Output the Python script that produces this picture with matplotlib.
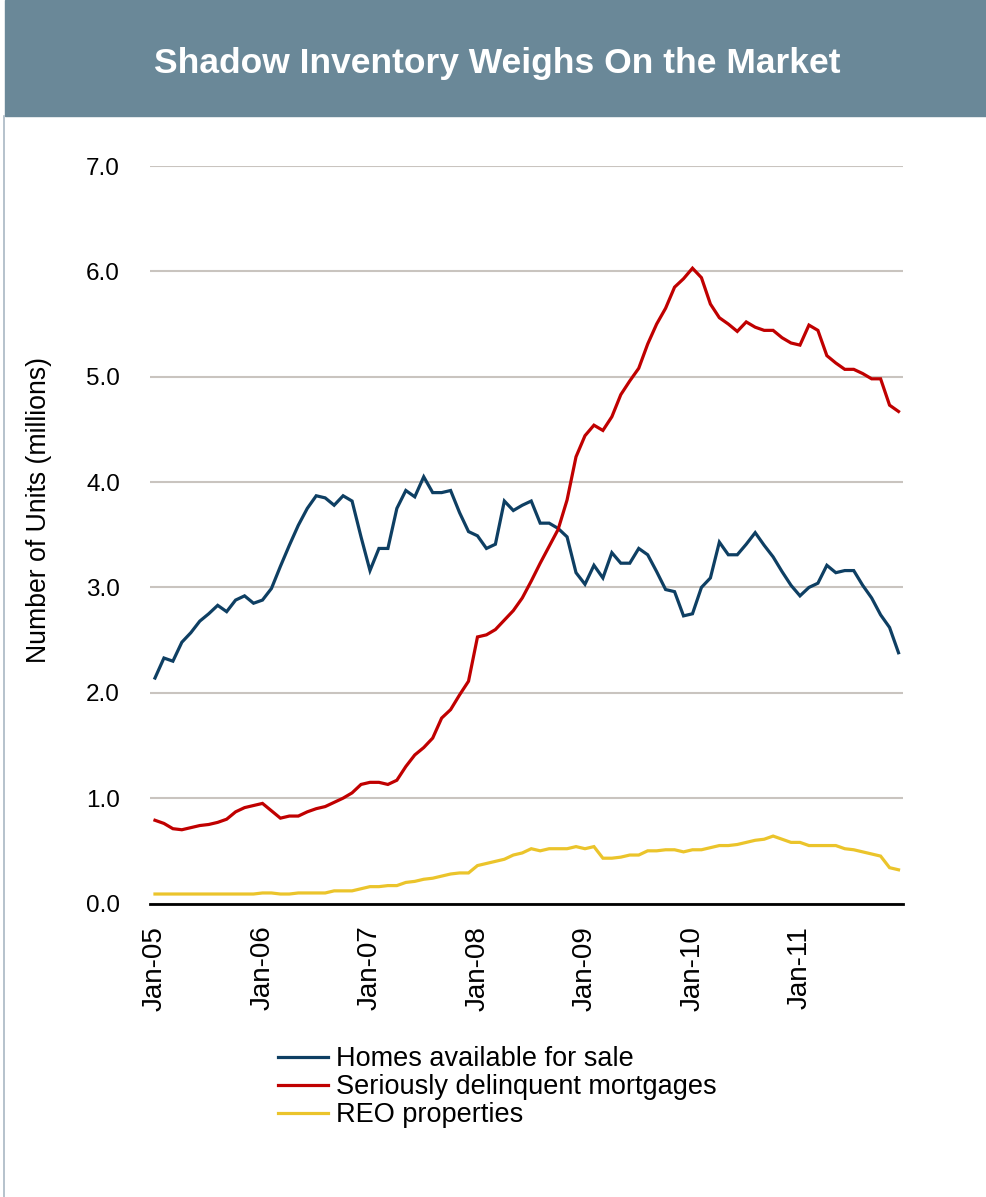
import matplotlib
matplotlib.use("Agg")
import matplotlib.pyplot as plt
from matplotlib.patches import Rectangle
from matplotlib.lines import Line2D
import numpy as np
import pandas as pd

plt.rcParams['font.family'] = ['Liberation Sans', 'DejaVu Sans']

# Data (millions of units, monthly Jan-05 .. Dec-11)
months = pd.date_range('2005-01-01', periods=84, freq='MS')

homes_for_sale = [
    2.14, 2.33, 2.30, 2.48, 2.57, 2.68, 2.75, 2.83, 2.77, 2.88, 2.92, 2.85,
    2.88, 2.99, 3.20, 3.40, 3.59, 3.75, 3.87, 3.85, 3.78, 3.87, 3.82, 3.48,
    3.16, 3.37, 3.37, 3.75, 3.92, 3.86, 4.05, 3.90, 3.90, 3.92, 3.71, 3.53,
    3.49, 3.37, 3.41, 3.82, 3.73, 3.78, 3.82, 3.61, 3.61, 3.56, 3.48, 3.14,
    3.03, 3.21, 3.09, 3.33, 3.23, 3.23, 3.37, 3.31, 3.15, 2.98, 2.96, 2.73,
    2.75, 3.00, 3.09, 3.43, 3.31, 3.31, 3.41, 3.52, 3.40, 3.29, 3.15, 3.02,
    2.92, 3.00, 3.04, 3.21, 3.14, 3.16, 3.16, 3.02, 2.90, 2.74, 2.62, 2.38,
]

delinquent = [
    0.79, 0.76, 0.71, 0.70, 0.72, 0.74, 0.75, 0.77, 0.80, 0.87, 0.91, 0.93,
    0.95, 0.88, 0.81, 0.83, 0.83, 0.87, 0.90, 0.92, 0.96, 1.00, 1.05, 1.13,
    1.15, 1.15, 1.13, 1.17, 1.30, 1.41, 1.48, 1.57, 1.76, 1.84, 1.98, 2.11,
    2.53, 2.55, 2.60, 2.69, 2.78, 2.90, 3.06, 3.23, 3.39, 3.55, 3.83, 4.24,
    4.44, 4.54, 4.49, 4.62, 4.83, 4.96, 5.08, 5.31, 5.50, 5.65, 5.85, 5.93,
    6.03, 5.94, 5.69, 5.56, 5.50, 5.43, 5.52, 5.47, 5.44, 5.44, 5.37, 5.32,
    5.30, 5.49, 5.44, 5.20, 5.13, 5.07, 5.07, 5.03, 4.98, 4.98, 4.73, 4.67,
]

reo = [
    0.09, 0.09, 0.09, 0.09, 0.09, 0.09, 0.09, 0.09, 0.09, 0.09, 0.09, 0.09,
    0.10, 0.10, 0.09, 0.09, 0.10, 0.10, 0.10, 0.10, 0.12, 0.12, 0.12, 0.14,
    0.16, 0.16, 0.17, 0.17, 0.20, 0.21, 0.23, 0.24, 0.26, 0.28, 0.29, 0.29,
    0.36, 0.38, 0.40, 0.42, 0.46, 0.48, 0.52, 0.50, 0.52, 0.52, 0.52, 0.54,
    0.52, 0.54, 0.43, 0.43, 0.44, 0.46, 0.46, 0.50, 0.50, 0.51, 0.51, 0.49,
    0.51, 0.51, 0.53, 0.55, 0.55, 0.56, 0.58, 0.60, 0.61, 0.64, 0.61, 0.58,
    0.58, 0.55, 0.55, 0.55, 0.55, 0.52, 0.51, 0.49, 0.47, 0.45, 0.34, 0.32,
]

labels = ['Homes available for sale', 'Seriously delinquent mortgages', 'REO properties']
colors = ['#0E3F63', '#C00000', '#EBC42B']

W, H = 987, 1197
fig = plt.figure(figsize=(W / 100, H / 100), dpi=100)

# header band + thin left border
fig.patches.append(Rectangle((5 / W, 1 - 116 / H), 1 - 5 / W, 116 / H,
                             transform=fig.transFigure, color='#6A8898', zorder=0))
fig.add_artist(Line2D([4.5 / W, 4.5 / W], [0, 1 - 116 / H], transform=fig.transFigure,
                      color='#A9B8C4', lw=1.2))
fig.text(497 / W, 1 - 63 / H, 'Shadow Inventory Weighs On the Market', color='white',
         fontsize=25.5, fontweight='bold', ha='center', va='center')

ax = fig.add_axes([150.5 / W, 1 - 903.5 / H, (903 - 150.5) / W, (903.5 - 166) / H])
x = np.arange(len(months))
for series, lab, c in zip([homes_for_sale, delinquent, reo], labels, colors):
    ax.plot(x, series, color=c, lw=2.3, label=lab, solid_joinstyle='miter', zorder=3)

ax.set_xlim(-0.5, len(months) - 0.5)
ax.set_ylim(0, 7)
ax.set_yticks(np.arange(0, 7.1, 1.0))
ax.set_yticklabels([f'{v:.1f}' for v in np.arange(0, 7.1, 1.0)], fontsize=17.5)
jan = [i for i, m in enumerate(months) if m.month == 1]
ax.set_xticks(jan)
ax.set_xticklabels([months[i].strftime('%b-%y') for i in jan], rotation=90, fontsize=20)
ax.tick_params(axis='x', length=0, pad=16)
ax.tick_params(axis='y', length=0, pad=22)
ax.grid(axis='y', color='#C9C4BF', lw=1.5)
ax.set_axisbelow(True)
for s in ['left', 'right', 'top']:
    ax.spines[s].set_visible(False)
ax.spines['bottom'].set_color('black')
ax.spines['bottom'].set_linewidth(2)
ax.spines['bottom'].set_zorder(4)
ax.set_ylabel('Number of Units (millions)', fontsize=19.2)
ax.yaxis.set_label_coords((52 - 150.5) / 752.5, (903.5 - 510) / 737.5)

fig.legend(loc='upper left', bbox_to_anchor=(278 / W, 1 - 1046 / H), frameon=False,
           fontsize=19.5, handlelength=1.85, handletextpad=0.3, labelspacing=0.08,
           borderpad=0, borderaxespad=0)

fig.savefig('out.png', dpi=100, facecolor='white')
